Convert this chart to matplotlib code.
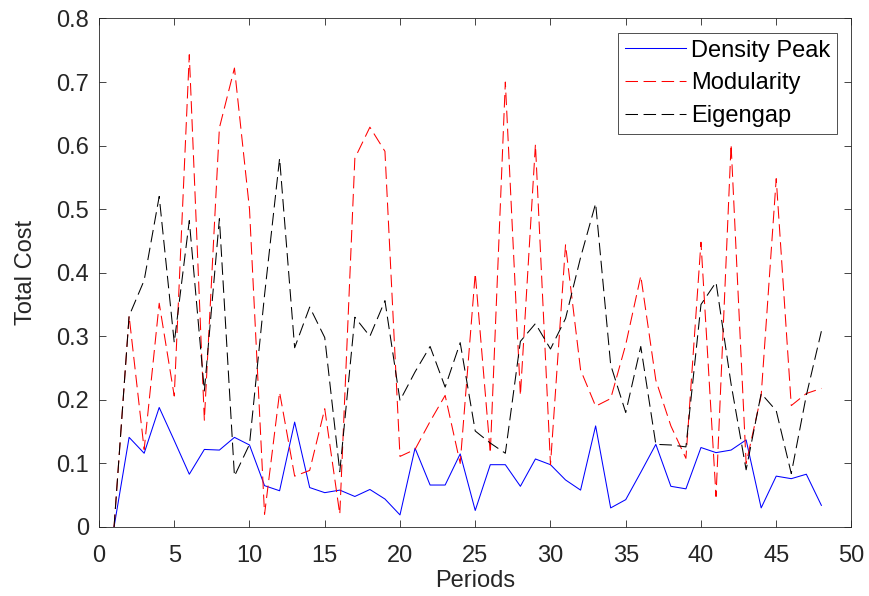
import matplotlib
matplotlib.use("Agg")
import matplotlib.pyplot as plt

periods = list(range(1, 49))

density_peak = [0, 0.141, 0.116, 0.188, 0.136, 0.083, 0.122, 0.121, 0.141, 0.129,
                0.065, 0.057, 0.165, 0.062, 0.054, 0.058, 0.048, 0.059, 0.044, 0.019,
                0.124, 0.066, 0.066, 0.115, 0.026, 0.098, 0.098, 0.064, 0.107, 0.098,
                0.074, 0.058, 0.159, 0.030, 0.043, 0.086, 0.130, 0.064, 0.060, 0.125,
                0.117, 0.121, 0.137, 0.030, 0.080, 0.076, 0.083, 0.034]

modularity = [0, 0.332, 0.122, 0.352, 0.206, 0.743, 0.168, 0.628, 0.722, 0.5,
              0.020, 0.212, 0.080, 0.089, 0.186, 0.020, 0.580, 0.629, 0.591, 0.111,
              0.122, 0.166, 0.207, 0.100, 0.399, 0.116, 0.700, 0.207, 0.602, 0.098,
              0.444, 0.247, 0.190, 0.202, 0.287, 0.395, 0.231, 0.159, 0.108, 0.448,
              0.048, 0.602, 0.100, 0.207, 0.548, 0.191, 0.210, 0.218]

eigengap = [0, 0.332, 0.388, 0.520, 0.290, 0.482, 0.214, 0.485, 0.080, 0.130,
            0.365, 0.580, 0.282, 0.346, 0.298, 0.087, 0.330, 0.300, 0.356, 0.199,
            0.244, 0.284, 0.220, 0.290, 0.151, 0.132, 0.116, 0.292, 0.320, 0.280,
            0.328, 0.424, 0.509, 0.255, 0.180, 0.284, 0.130, 0.129, 0.126, 0.350,
            0.385, 0.225, 0.090, 0.210, 0.183, 0.084, 0.207, 0.308]

plt.rcParams['font.family'] = ['Liberation Sans', 'DejaVu Sans']
plt.rcParams['lines.scale_dashes'] = False
FS = 17
TXT = '#262626'

fig = plt.figure(figsize=(8.7, 5.96), dpi=100)
ax = fig.add_axes([0.1138, 0.1158, 0.9787 - 0.1138, 0.969 - 0.1158])

lw = 0.75
ax.plot(periods, density_peak, color='#0000ff', lw=lw, label='Density Peak')
ax.plot(periods, modularity, color='#ff0000', lw=lw, dashes=(9, 4), label='Modularity')
ax.plot(periods, eigengap, color='#000000', lw=lw, dashes=(9, 4), label='Eigengap')

ax.set_xlim(0, 50)
ax.set_ylim(0, 0.8)
ax.set_xticks([0, 5, 10, 15, 20, 25, 30, 35, 40, 45, 50])
ax.set_yticks([0, 0.1, 0.2, 0.3, 0.4, 0.5, 0.6, 0.7, 0.8])
ax.set_yticklabels(['0', '0.1', '0.2', '0.3', '0.4', '0.5', '0.6', '0.7', '0.8'])
ax.tick_params(direction='in', length=5, width=0.6, color=TXT, labelcolor=TXT,
               labelsize=FS, top=True, right=True)
ax.tick_params(axis='x', pad=13)
ax.tick_params(axis='y', pad=7)
for s in ax.spines.values():
    s.set_color(TXT)
    s.set_linewidth(0.6)

ax.set_xlabel('Periods', fontsize=FS, color=TXT, labelpad=2)
ax.set_ylabel('Total Cost', fontsize=FS, color=TXT, labelpad=14)

leg = ax.legend(loc='upper right', fontsize=FS, frameon=True, fancybox=False,
                edgecolor='#000000', handlelength=2.6, handletextpad=0.2,
                labelspacing=0.45, borderpad=0.3, borderaxespad=0.6)
leg.get_frame().set_linewidth(0.6)

fig.savefig('out.png', dpi=100)
